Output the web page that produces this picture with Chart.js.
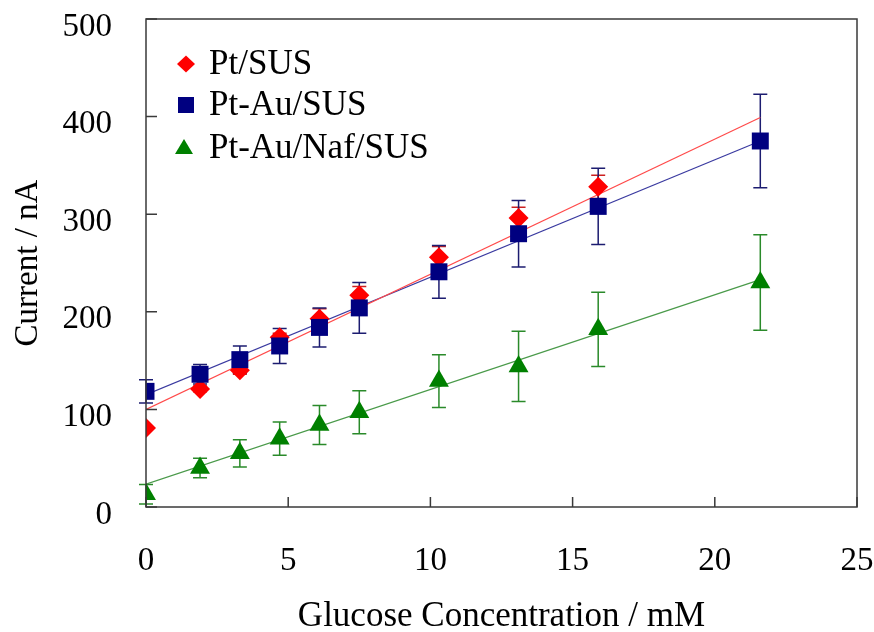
<!DOCTYPE html>
<html>
<head>
<meta charset="utf-8">
<script src="https://cdn.jsdelivr.net/npm/chart.js@4"></script>
<style>
  html, body { margin: 0; padding: 0; background: #ffffff; }
  #wrap { width: 874px; height: 632px; }
</style>
</head>
<body>
<div id="wrap"><canvas id="chart" width="874" height="632"></canvas></div>
<script>
// Glucose concentration (mM) at each measurement step
const concentration = [0, 1.9, 3.3, 4.7, 6.1, 7.5, 10.3, 13.1, 15.9, 21.6];

// Mean response current (nA) and standard deviation per electrode
const ptSus        = [81, 121, 140, 174, 193, 217, 256, 296, 328];
const ptSusErr     = [0, 3, 4, 4, 10, 9, 11, 11, 12];
const ptAuSus      = [118.5, 136, 151, 165, 184, 204, 241, 280, 308, 375];
const ptAuSusErr   = [12, 10, 14, 18, 20, 26, 27, 34, 39, 48];
const ptAuNafSus   = [13, 40, 55, 70, 84, 97, 129, 144, 182, 230];
const ptAuNafSusErr= [10, 10, 14, 17, 20, 22, 27, 36, 38, 49];

// Linear calibration lines (end points)
const fitX         = [0, 21.6];
const ptSusFit     = [100, 399];
const ptAuSusFit   = [115, 375];
const ptAuNafFit   = [23.5, 233];

const xTicks = [0, 5, 10, 15, 20, 25];
const yTicks = [0, 100, 200, 300, 400, 500];

const FONT = '"Liberation Serif", "Times New Roman", serif';

function points(values) {
  return values.map((v, i) => ({ x: concentration[i], y: v }));
}
function fitLine(values) {
  return values.map((v, i) => ({ x: fitX[i], y: v }));
}

const series = [
  { label: 'Pt/SUS', values: ptSus, err: ptSusErr, color: '#ff0000', errColor: '#cc2020',
    style: 'rectRot', radius: 10, fit: ptSusFit, fitColor: '#ff4a4a', order: 3 },
  { label: 'Pt-Au/SUS', values: ptAuSus, err: ptAuSusErr, color: '#000080', errColor: '#1c1c70',
    style: 'rect', radius: 12, fit: ptAuSusFit, fitColor: '#3a3aa0', order: 2 },
  { label: 'Pt-Au/Naf/SUS', values: ptAuNafSus, err: ptAuNafSusErr, color: '#008000', errColor: '#2a8a2a',
    style: 'triangle', radius: 11.5, fit: ptAuNafFit, fitColor: '#4a9a4a', order: 1 }
];

const datasets = [];
series.forEach(s => {
  datasets.push({
    label: s.label + ' fit',
    data: fitLine(s.fit),
    showLine: true,
    borderColor: s.fitColor,
    borderWidth: 1.2,
    pointRadius: 0,
    fill: false,
    order: 10
  });
});
series.forEach(s => {
  datasets.push({
    label: s.label,
    data: points(s.values),
    errors: s.err,
    errColor: s.errColor,
    pointStyle: s.style,
    pointRadius: s.radius,
    pointHoverRadius: s.radius,
    backgroundColor: s.color,
    borderColor: s.color,
    borderWidth: 0,
    showLine: false,
    order: s.order
  });
});

// Error bars, inward tick marks, plot frame and the inset legend
const decorations = {
  id: 'decorations',
  beforeDatasetsDraw(chart) {
    const ctx = chart.ctx;
    const xs = chart.scales.x, ys = chart.scales.y;
    chart.data.datasets.forEach(ds => {
      if (!ds.errors) return;
      ctx.save();
      ctx.strokeStyle = ds.errColor;
      ctx.lineWidth = 1.5;
      ds.data.forEach((p, i) => {
        const e = ds.errors[i];
        if (!e) return;
        const px = xs.getPixelForValue(p.x);
        const top = ys.getPixelForValue(p.y + e);
        const bot = ys.getPixelForValue(p.y - e);
        ctx.beginPath();
        ctx.moveTo(px, top); ctx.lineTo(px, bot);
        ctx.moveTo(px - 7, top); ctx.lineTo(px + 7, top);
        ctx.moveTo(px - 7, bot); ctx.lineTo(px + 7, bot);
        ctx.stroke();
      });
      ctx.restore();
    });
  },
  afterDatasetsDraw(chart) {
    const ctx = chart.ctx;
    const a = chart.chartArea;
    const xs = chart.scales.x, ys = chart.scales.y;
    ctx.save();
    ctx.strokeStyle = '#3a3a3a';
    ctx.lineWidth = 1.5;
    ctx.beginPath();
    xTicks.forEach(v => {
      const px = xs.getPixelForValue(v);
      ctx.moveTo(px, a.bottom); ctx.lineTo(px, a.bottom - 10);
    });
    yTicks.forEach(v => {
      const py = ys.getPixelForValue(v);
      ctx.moveTo(a.left, py); ctx.lineTo(a.left + 11, py);
    });
    ctx.stroke();
    ctx.strokeRect(a.left, a.top, a.right - a.left, a.bottom - a.top);

    // legend
    const rows = [64, 105, 148];
    ctx.font = '35px ' + FONT;
    ctx.textBaseline = 'middle';
    series.forEach((s, i) => {
      const y = rows[i];
      const mx = 186;
      ctx.fillStyle = s.color;
      ctx.beginPath();
      if (s.style === 'rectRot') {
        ctx.moveTo(mx, y - 8.5); ctx.lineTo(mx + 9, y); ctx.lineTo(mx, y + 8.5); ctx.lineTo(mx - 9, y);
      } else if (s.style === 'rect') {
        ctx.rect(mx - 8, y - 8, 16, 16);
      } else {
        ctx.moveTo(mx - 2, y - 9); ctx.lineTo(mx + 7, y + 6); ctx.lineTo(mx - 11, y + 6);
      }
      ctx.closePath();
      ctx.fill();
      ctx.fillStyle = '#000';
      ctx.fillText(s.label, 209, y + 1);
    });
    ctx.restore();
  }
};

new Chart(document.getElementById('chart'), {
  type: 'scatter',
  data: { datasets },
  plugins: [decorations],
  options: {
    responsive: false,
    animation: false,
    layout: { padding: { top: 19, right: 17, left: 0, bottom: 0 } },
    plugins: {
      legend: { display: false },
      tooltip: { enabled: false }
    },
    scales: {
      x: {
        type: 'linear',
        min: 0, max: 25,
        afterFit(scale) { scale.height = 125; scale.paddingLeft = 0; scale.paddingRight = 0; },
        afterBuildTicks(scale) { scale.ticks = xTicks.map(v => ({ value: v })); },
        grid: { display: false, drawTicks: false },
        border: { display: false },
        ticks: { color: '#000', font: { family: FONT, size: 33 }, padding: 35 },
        title: {
          display: true,
          text: 'Glucose Concentration / mM',
          color: '#000',
          font: { family: FONT, size: 35, lineHeight: 0.8 },
          padding: { top: 0, bottom: 1 }
        }
      },
      y: {
        type: 'linear',
        min: 0, max: 500,
        afterFit(scale) { scale.width = 146; scale.paddingTop = 0; scale.paddingBottom = 0; },
        afterBuildTicks(scale) { scale.ticks = yTicks.map(v => ({ value: v })); },
        grid: { display: false, drawTicks: false },
        border: { display: false },
        ticks: { color: '#000', font: { family: FONT, size: 33 }, padding: 34, labelOffset: 8 },
        title: {
          display: true,
          text: 'Current / nA',
          color: '#000',
          font: { family: FONT, size: 33 },
          padding: { top: 9, bottom: 0 }
        }
      }
    }
  }
});
</script>
</body>
</html>
